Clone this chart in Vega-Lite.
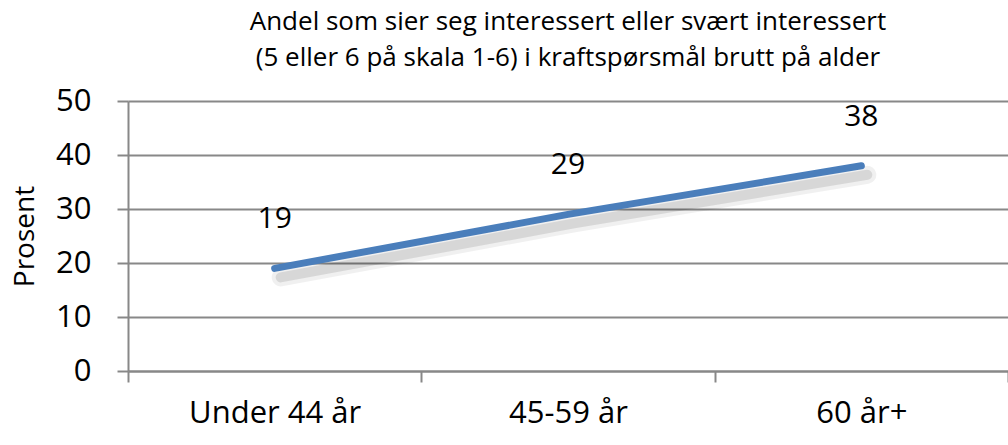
{
  "$schema": "https://vega.github.io/schema/vega-lite/v6.json",
  "autosize": "none",
  "width": 880,
  "height": 270,
  "padding": {"left": 128, "top": 101, "right": 0, "bottom": 74},
  "background": "white",
  "title": {
    "text": ["Andel som sier seg interessert eller svært interessert", "(5 eller 6 på skala 1-6) i kraftspørsmål brutt på alder"],
    "font": "Open Sans",
    "fontSize": 26,
    "fontWeight": "normal",
    "color": "#000000",
    "anchor": "middle",
    "offset": 14,
    "lineHeight": 36
  },
  "data": {
    "values": [
      {"alder": "Under 44 år", "prosent": 19},
      {"alder": "45-59 år", "prosent": 29},
      {"alder": "60 år+", "prosent": 38}
    ]
  },
  "encoding": {
    "x": {
      "field": "alder",
      "type": "nominal",
      "sort": null,
      "scale": {"paddingInner": 0, "paddingOuter": 0},
      "axis": {
        "title": null,
        "labelAngle": 0,
        "labelFont": "Open Sans",
        "labelFontSize": 31,
        "labelColor": "#000000",
        "labelPadding": 16,
        "tickBand": "extent",
        "tickSize": 11,
        "tickColor": "#888888",
        "tickWidth": 2,
        "domainColor": "#888888",
        "domainWidth": 2,
        "grid": false
      }
    },
    "y": {
      "field": "prosent",
      "type": "quantitative",
      "scale": {"domain": [0, 50], "nice": false},
      "axis": {
        "title": "Prosent",
        "titleFont": "Open Sans",
        "titleFontSize": 28,
        "titleFontWeight": "normal",
        "titleColor": "#000000",
        "titleX": -103,
        "titleY": 135,
        "titleAngle": -90,
        "titleAlign": "center",
        "titleBaseline": "middle",
        "values": [0, 10, 20, 30, 40, 50],
        "labelFont": "Open Sans",
        "labelFontSize": 31,
        "labelColor": "#000000",
        "labelPadding": 26,
        "tickSize": 11,
        "tickColor": "#888888",
        "tickWidth": 2,
        "domainColor": "#888888",
        "domainWidth": 2,
        "grid": true,
        "gridColor": "#888888",
        "gridWidth": 2
      }
    }
  },
  "layer": [
    {
      "mark": {"type": "line", "color": "#000000", "opacity": 0.06, "strokeWidth": 18, "strokeCap": "round", "xOffset": 6, "yOffset": 9},
      "encoding": {}
    },
    {
      "mark": {"type": "line", "color": "#000000", "opacity": 0.1, "strokeWidth": 10, "strokeCap": "round", "xOffset": 6, "yOffset": 9},
      "encoding": {}
    },
    {
      "mark": {"type": "line", "color": "#4A7EBB", "strokeWidth": 7, "strokeCap": "round"},
      "encoding": {}
    },
    {
      "mark": {"type": "text", "font": "Open Sans", "fontSize": 30, "color": "#000000", "dy": -49, "baseline": "middle"},
      "encoding": {"text": {"field": "prosent", "type": "quantitative"}}
    }
  ],
  "config": {"view": {"stroke": null}}
}
